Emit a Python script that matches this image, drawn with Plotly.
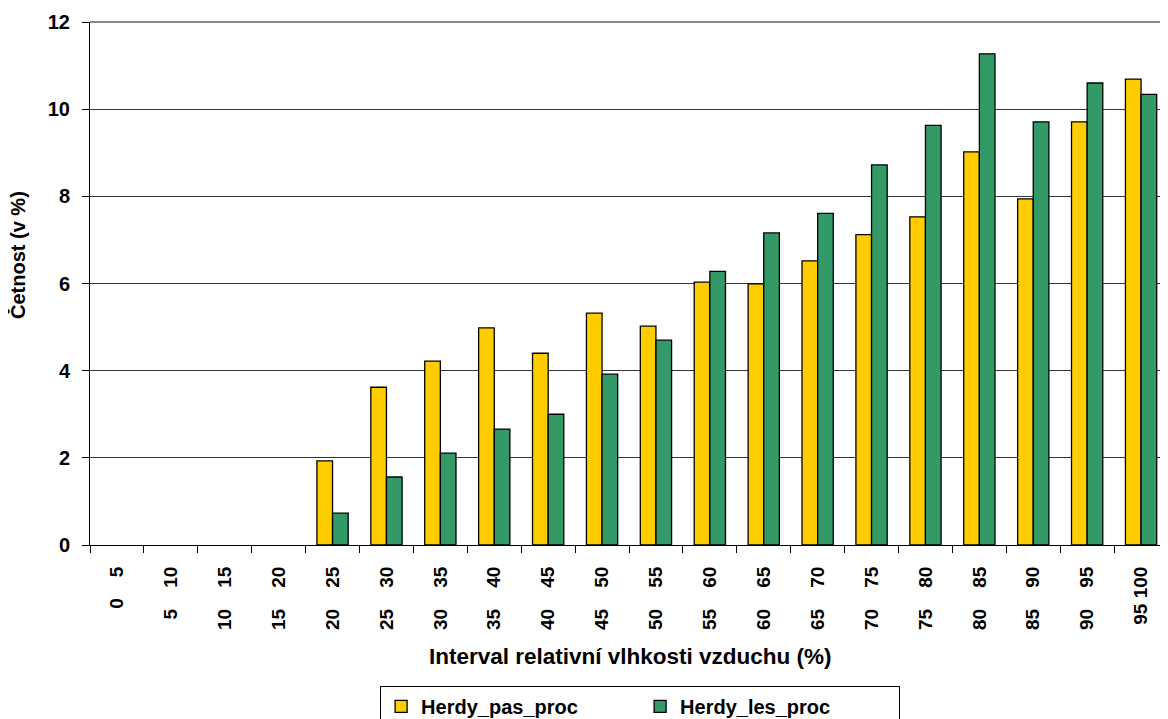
import plotly.graph_objects as go

categories = ["0    5", "5    10", "10    15", "15    20", "20    25", "25    30", "30    35",
              "35    40", "40    45", "45    50", "50    55", "55    60", "60    65", "65    70",
              "70    75", "75    80", "80    85", "85    90", "90    95", "95 100"]
herdy_pas_proc = [0, 0, 0, 0, 1.93, 3.62, 4.22, 4.98, 4.40, 5.32, 5.02, 6.03, 5.99,
                  6.52, 7.12, 7.53, 9.02, 7.94, 9.71, 10.69]
herdy_les_proc = [0, 0, 0, 0, 0.73, 1.56, 2.11, 2.66, 3.00, 3.92, 4.70, 6.28, 7.16,
                  7.61, 8.72, 9.63, 11.27, 9.71, 10.60, 10.34]
y_ticks = [0, 2, 4, 6, 8, 10, 12]

x_text = [c.replace(" ", "\u00a0") for c in categories]

FONT = "Liberation Sans, Arial, sans-serif"


def nz(vals):
    # zero-height bars are not drawn in the original
    return [v if v != 0 else None for v in vals]


fig = go.Figure()
fig.add_trace(go.Bar(x=x_text, y=nz(herdy_pas_proc), name="Herdy_pas_proc",
                     marker=dict(color="#FFCC00", line=dict(color="#000000", width=1.3))))
fig.add_trace(go.Bar(x=x_text, y=nz(herdy_les_proc), name="Herdy_les_proc",
                     marker=dict(color="#339966", line=dict(color="#000000", width=1.3))))

fig.update_layout(
    width=1160, height=711,
    margin=dict(l=82, r=0, t=14, b=174, autoexpand=False),
    paper_bgcolor="white", plot_bgcolor="white",
    barmode="group", bargap=0.42, bargroupgap=0,
    font=dict(family=FONT, color="black", size=19, weight="bold"),
    showlegend=True,
    legend=dict(orientation="h", x=0.5103, xanchor="center", y=-0.2695, yanchor="top",
                bordercolor="#000000", borderwidth=1, bgcolor="white",
                font=dict(family=FONT, size=20, weight="bold"),
                entrywidth=214, entrywidthmode="pixels", traceorder="normal"),
    xaxis=dict(type="category", tickson="boundaries", ticks="outside", ticklen=7,
               tickcolor="black", tickwidth=1, showline=True, linecolor="black", linewidth=1,
               showgrid=False, tickangle=-90, automargin=False,
               tickfont=dict(family=FONT, size=19, weight="bold"), ticklabelstandoff=13),
    yaxis=dict(range=[0, 12], tickvals=y_ticks, ticks="outside", ticklen=7,
               tickcolor="black", tickwidth=1, showline=True, linecolor="black", linewidth=1,
               showgrid=True, gridcolor="#333333", gridwidth=1, zeroline=False, automargin=False,
               tickfont=dict(family=FONT, size=20, weight="bold"), ticklabelstandoff=8),
    shapes=[dict(type="line", xref="paper", yref="paper", x0=0, x1=1, y0=1, y1=1,
                 line=dict(color="#888888", width=2))],
    annotations=[
        dict(text="Interval relativní vlhkosti vzduchu (%)", xref="paper", yref="paper",
             x=0.501, y=-0.214, xanchor="center", yanchor="middle", showarrow=False,
             font=dict(family=FONT, size=22.5, weight="bold")),
        dict(text="Četnost (v %)", xref="paper", yref="paper", textangle=-90,
             x=-0.0668, y=0.5545, xanchor="center", yanchor="middle", showarrow=False,
             font=dict(family=FONT, size=20, weight="bold")),
    ],
)

fig.write_html("out.html")
